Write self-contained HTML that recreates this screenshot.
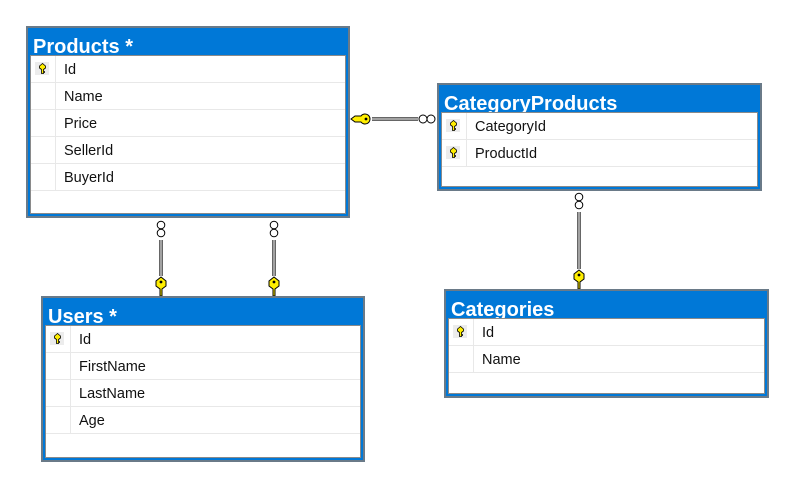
<!DOCTYPE html>
<html><head><style>
body{margin:0;width:798px;height:485px;background:#fff;position:relative;overflow:hidden;font-family:"Segoe UI","Liberation Sans",sans-serif;}
.t{position:absolute;background:#0078d7;border:2px solid #6a7a88;box-sizing:border-box;}
.ti{position:absolute;left:5px;top:7px;color:#fff;font-weight:bold;font-size:20px;line-height:24px;white-space:nowrap;}
.p{position:absolute;left:2px;right:2px;bottom:2px;background:#fff;border:1px solid #8a8a8a;}
.r{position:relative;height:26px;border-bottom:1px solid #e8e8e8;}
.k{position:absolute;left:0;top:0;width:24px;height:26px;border-right:1px solid #e8e8e8;}
.kb{position:absolute;left:4px;top:6px;width:14px;height:13px;background:#ececec;}
.kb svg{position:absolute;left:4px;top:1px;}
.n{position:absolute;left:33px;top:1px;line-height:26px;font-size:14.5px;color:#111;}
</style></head><body>
<svg width="798" height="485" style="position:absolute;left:0;top:0">
<line x1="372" y1="119" x2="418" y2="119" stroke="#666" stroke-width="4"/>
<line x1="372" y1="119" x2="418" y2="119" stroke="#ddd" stroke-width="1"/>
<circle cx="423" cy="119" r="4" fill="#fff" stroke="#000"/><circle cx="431" cy="119" r="4" fill="#fff" stroke="#000"/>
<path d="M351,119 l4,-3 h6 a5,5 0 1 1 0,6 h-6 z" fill="#ffee00" stroke="#000"/><circle cx="366" cy="119" r="1.4" fill="#000"/>
<g>
<line x1="161" y1="240" x2="161" y2="276" stroke="#666" stroke-width="4"/><line x1="161" y1="240" x2="161" y2="276" stroke="#ddd"/>
<circle cx="161" cy="225" r="3.8" fill="#fff" stroke="#000"/><circle cx="161" cy="233" r="3.8" fill="#fff" stroke="#000"/>
<path d="M161,277 l-5,4 v5 l4,3 v7 h2 v-7 l4,-3 v-5 z" fill="#ffee00" stroke="#000"/><circle cx="161" cy="282" r="1.4" fill="#000"/>
</g>
<g>
<line x1="274" y1="240" x2="274" y2="276" stroke="#666" stroke-width="4"/><line x1="274" y1="240" x2="274" y2="276" stroke="#ddd"/>
<circle cx="274" cy="225" r="3.8" fill="#fff" stroke="#000"/><circle cx="274" cy="233" r="3.8" fill="#fff" stroke="#000"/>
<path d="M274,277 l-5,4 v5 l4,3 v7 h2 v-7 l4,-3 v-5 z" fill="#ffee00" stroke="#000"/><circle cx="274" cy="282" r="1.4" fill="#000"/>
</g>
<g>
<line x1="579" y1="212" x2="579" y2="269" stroke="#666" stroke-width="4"/><line x1="579" y1="212" x2="579" y2="269" stroke="#ddd"/>
<circle cx="579" cy="197" r="3.8" fill="#fff" stroke="#000"/><circle cx="579" cy="205" r="3.8" fill="#fff" stroke="#000"/>
<path d="M579,270 l-5,4 v5 l4,3 v7 h2 v-7 l4,-3 v-5 z" fill="#ffee00" stroke="#000"/><circle cx="579" cy="275" r="1.4" fill="#000"/>
</g>
</svg>

<div class="t" style="left:26px;top:26px;width:324px;height:192px;">
<div class="ti">Products *</div>
<div class="p" style="top:27px;">
<div class="r"><div class="k"><div class="kb"><svg width="7" height="11"><path d="M3.5,0.5 l-3,2.5 v2 l2,1.5 v4 h2 v-1 h1 v-1 h-1 v-2 l2,-1.5 v-2 z" fill="#ffee00" stroke="#000" stroke-width="0.8"/></svg></div></div><div class="n">Id</div></div>
<div class="r"><div class="k"></div><div class="n">Name</div></div>
<div class="r"><div class="k"></div><div class="n">Price</div></div>
<div class="r"><div class="k"></div><div class="n">SellerId</div></div>
<div class="r"><div class="k"></div><div class="n">BuyerId</div></div>
</div></div>

<div class="t" style="left:437px;top:83px;width:325px;height:108px;">
<div class="ti">CategoryProducts</div>
<div class="p" style="top:27px;">
<div class="r"><div class="k"><div class="kb"><svg width="7" height="11"><path d="M3.5,0.5 l-3,2.5 v2 l2,1.5 v4 h2 v-1 h1 v-1 h-1 v-2 l2,-1.5 v-2 z" fill="#ffee00" stroke="#000" stroke-width="0.8"/></svg></div></div><div class="n">CategoryId</div></div>
<div class="r"><div class="k"><div class="kb"><svg width="7" height="11"><path d="M3.5,0.5 l-3,2.5 v2 l2,1.5 v4 h2 v-1 h1 v-1 h-1 v-2 l2,-1.5 v-2 z" fill="#ffee00" stroke="#000" stroke-width="0.8"/></svg></div></div><div class="n">ProductId</div></div>
</div></div>

<div class="t" style="left:41px;top:296px;width:324px;height:166px;">
<div class="ti">Users *</div>
<div class="p" style="top:27px;">
<div class="r"><div class="k"><div class="kb"><svg width="7" height="11"><path d="M3.5,0.5 l-3,2.5 v2 l2,1.5 v4 h2 v-1 h1 v-1 h-1 v-2 l2,-1.5 v-2 z" fill="#ffee00" stroke="#000" stroke-width="0.8"/></svg></div></div><div class="n">Id</div></div>
<div class="r"><div class="k"></div><div class="n">FirstName</div></div>
<div class="r"><div class="k"></div><div class="n">LastName</div></div>
<div class="r"><div class="k"></div><div class="n">Age</div></div>
</div></div>

<div class="t" style="left:444px;top:289px;width:325px;height:109px;">
<div class="ti">Categories</div>
<div class="p" style="top:27px;">
<div class="r"><div class="k"><div class="kb"><svg width="7" height="11"><path d="M3.5,0.5 l-3,2.5 v2 l2,1.5 v4 h2 v-1 h1 v-1 h-1 v-2 l2,-1.5 v-2 z" fill="#ffee00" stroke="#000" stroke-width="0.8"/></svg></div></div><div class="n">Id</div></div>
<div class="r"><div class="k"></div><div class="n">Name</div></div>
</div></div>
</body></html>
